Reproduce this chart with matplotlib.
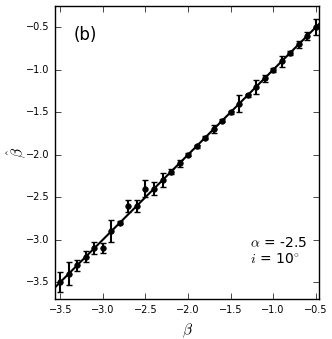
import numpy as np
import matplotlib
matplotlib.use('Agg')
import matplotlib.pyplot as plt

plt.style.use('classic')

# true beta values
beta = [-3.5, -3.4, -3.3, -3.2, -3.1, -3.0, -2.9, -2.8, -2.7, -2.6, -2.5,
        -2.4, -2.3, -2.2, -2.1, -2.0, -1.9, -1.8, -1.7, -1.6, -1.5,
        -1.4, -1.3, -1.2, -1.1, -1.0, -0.9, -0.8, -0.7, -0.6, -0.5]
# recovered beta
beta_hat = [-3.5, -3.4, -3.3, -3.2, -3.1, -3.1, -2.9, -2.8, -2.6, -2.6, -2.4,
            -2.4, -2.3, -2.2, -2.1, -2.0, -1.9, -1.8, -1.7, -1.6, -1.5,
            -1.4, -1.3, -1.2, -1.1, -1.0, -0.9, -0.8, -0.7, -0.6, -0.5]
beta_err = [0.12, 0.14, 0.065, 0.065, 0.075, 0.06, 0.13, 0.02, 0.07, 0.07, 0.1,
            0.075, 0.08, 0.03, 0.04, 0.02, 0.02, 0.02, 0.05, 0.02, 0.02,
            0.1, 0.02, 0.08, 0.04, 0.02, 0.065, 0.02, 0.04, 0.045, 0.095]

fig = plt.figure(figsize=(3.32, 3.39), dpi=100)
fig.patch.set_facecolor('white')
ax = fig.add_axes([0.1666, 0.118, 0.7944, 0.865])

ax.plot([-3.6, -0.4], [-3.6, -0.4], color='k', linewidth=1.5)
ax.errorbar(beta, beta_hat, yerr=beta_err, fmt='o', color='k', ms=4,
            mec='k', elinewidth=1.5, capsize=2, capthick=1)

ax.set_xlim(-3.56, -0.46)
ax.set_ylim(-3.7, -0.245)
ax.set_xticks([-3.5, -3.0, -2.5, -2.0, -1.5, -1.0, -0.5])
ax.set_yticks([-3.5, -3.0, -2.5, -2.0, -1.5, -1.0, -0.5])
ax.tick_params(labelsize=7)
ax.set_xlabel(r'$\beta$', fontsize=11)
ax.set_ylabel(r'$\hat{\beta}$', fontsize=11)
ax.yaxis.set_label_coords(-0.105, 0.5)

ax.text(0.068, 0.883, '(b)', transform=ax.transAxes, fontsize=12, va='baseline')
ax.text(0.74, 0.11, r'$\alpha$ = -2.5' + '\n' + r'$i$ = 10$^{\circ}$',
        transform=ax.transAxes, fontsize=10, linespacing=1.2, va='bottom')

fig.savefig('out.png', dpi=100, facecolor='white')
